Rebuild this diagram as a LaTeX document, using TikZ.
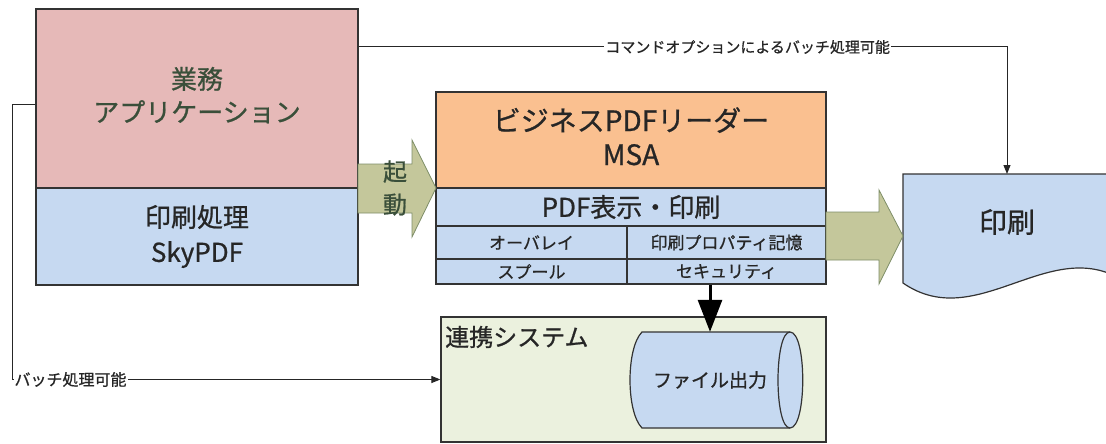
\documentclass[tikz,border=0pt]{standalone}
\usepackage{fontspec}
\setmainfont{Noto Sans CJK JP}[FakeBold=0.8]
\usetikzlibrary{arrows.meta}

\definecolor{apppink}{HTML}{E6B9B8}
\definecolor{printblue}{HTML}{C6D9F1}
\definecolor{readerorange}{HTML}{FAC090}
\definecolor{linkgreen}{HTML}{EBF1DE}
\definecolor{khaki}{HTML}{C4C79B}
\definecolor{khakiline}{HTML}{7E8E68}
\definecolor{darkgreen}{HTML}{3A4F3A}

\tikzset{
  box/.style={draw=black!80, line width=1.2pt, inner sep=0pt, align=center, text=black!85},
  cell/.style={box, font=\fontsize{17}{20}\selectfont},
  blockarrow/.style={fill=khaki, draw=khakiline, line width=0.8pt},
  thinarrow/.style={draw=black!85, line width=1pt, -{Triangle[width=7pt,length=9pt]}},
  bigarrow/.style={draw=black, line width=3pt, -{Triangle[width=24pt,length=32pt]}},
  lbl/.style={fill=white, inner sep=1pt, text=black!85}
}

\begin{document}
\begin{tikzpicture}[x=1pt, y=-1pt]
  \useasboundingbox (0,0) rectangle (1106,444);

  % left: business application
  \node[box, fill=apppink, minimum width=322pt, minimum height=179pt, text=darkgreen,
        font=\fontsize{26}{34}\selectfont] (app) at (197,98.5) {\raisebox{-6pt}{\begin{tabular}{@{}c@{}}業務\\[-1pt]アプリケーション\end{tabular}}};
  \node[box, fill=printblue, minimum width=322pt, minimum height=97pt,
        font=\fontsize{26}{35}\selectfont] (skypdf) at (197,236.5) {印刷処理\\SkyPDF};

  % middle: reader
  \node[box, fill=readerorange, minimum width=390pt, minimum height=96pt,
        font=\fontsize{28}{40}\selectfont] (reader) at (631,140) {\raisebox{5pt}{\begin{tabular}{@{}c@{}}ビジネスPDFリーダー\\[-6pt]MSA\end{tabular}}};
  \node[box, fill=printblue, minimum width=390pt, minimum height=38pt,
        font=\fontsize{26}{30}\selectfont] (view) at (631,207) {PDF表示・印刷};
  \node[cell, fill=printblue, minimum width=191pt, minimum height=33pt] (overlay) at (531.5,242.5) {オーバレイ};
  \node[cell, fill=printblue, minimum width=199pt, minimum height=33pt] (prop) at (726.5,242.5) {印刷プロパティ記憶};
  \node[cell, fill=printblue, minimum width=191pt, minimum height=25pt] (spool) at (531.5,271.5) {スプール};
  \node[cell, fill=printblue, minimum width=199pt, minimum height=25pt] (sec) at (726.5,271.5) {セキュリティ};

  % start arrow
  \draw[blockarrow] (358,164) -- (412,164) -- (412,140) -- (436,188) -- (412,237) -- (412,213) -- (358,213) -- cycle;
  \node[text=darkgreen, align=center, inner sep=0pt, font=\fontsize{24}{33}\selectfont] (start) at (395,188) {起\\動};

  % print document
  \filldraw[fill=printblue, draw=black!80, line width=1.2pt]
    (903,174) -- (1127,174) -- (1127,283) .. controls (1052,231) and (978,335) .. (903,283) -- cycle;
  \node[text=black!85, font=\fontsize{28}{30}\selectfont] (print) at (1007,222) {印刷};
  \coordinate (doctop) at (1007,174);
  \draw[blockarrow] (826,212) -- (879,212) -- (879,190) -- (903,236) -- (879,284) -- (879,260) -- (826,260) -- cycle;

  % linked system
  \node[box, fill=linkgreen, minimum width=385pt, minimum height=125pt] (link) at (633.5,379.5) {};
  \node[anchor=west, inner sep=0pt, text=black!85, font=\fontsize{24}{28}\selectfont] (linktitle) at (445,337) {連携システム};
  \filldraw[fill=printblue, draw=black!80, line width=1.2pt]
    (642,332) -- (790,332) .. controls (807,332) and (807,428) .. (790,428)
    -- (642,428) .. controls (626,412) and (626,348) .. (642,332) -- cycle;
  \draw[black!80, line width=1.2pt] (790,332) .. controls (774,332) and (774,428) .. (790,428);
  \node[inner sep=0pt, minimum width=148pt, minimum height=96pt, text=black!85,
        font=\fontsize{19}{22}\selectfont] (file) at (710,380) {ファイル出力};

  % connectors
  \draw[bigarrow] (sec.south -| file.north) -- (file.north);
  \draw[thinarrow] (app.east |- 0,47) -| node[lbl, pos=0.3, font=\fontsize{15}{17}\selectfont] {コマンドオプションによるバッチ処理可能} (doctop);
  \draw[thinarrow] (app.west |- 0,104) -- (12,104) |- node[lbl, pos=0.5, anchor=west, xshift=1pt, font=\fontsize{16}{18}\selectfont] {バッチ処理可能} (link.west);
\end{tikzpicture}
\end{document}
